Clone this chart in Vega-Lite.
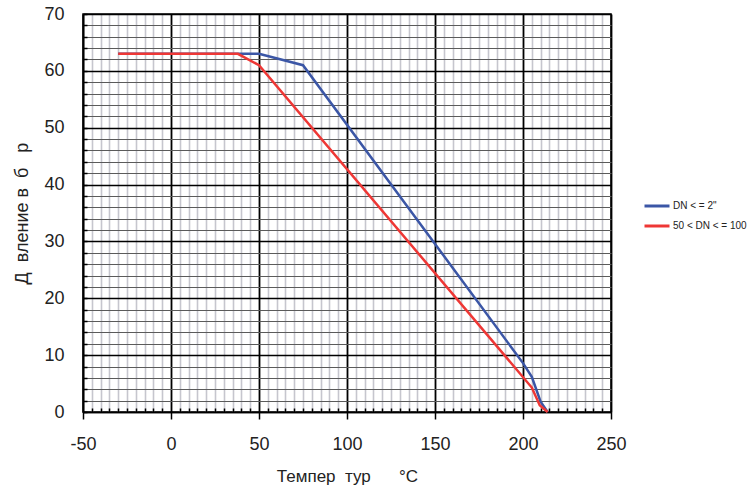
{
  "$schema": "https://vega.github.io/schema/vega-lite/v6.json",
  "autosize": {"type": "none"},
  "width": 528,
  "height": 398,
  "padding": {"left": 83, "top": 14, "right": 141, "bottom": 83},
  "background": "white",
  "config": {
    "view": {"stroke": "#000", "strokeWidth": 1.5},
    "font": "Liberation Sans"
  },
  "data": {
    "values": [
      {"series": "DN < = 2\"", "t": -30, "p": 63, "o": 1},
      {"series": "DN < = 2\"", "t": 50, "p": 63, "o": 2},
      {"series": "DN < = 2\"", "t": 75, "p": 61, "o": 3},
      {"series": "DN < = 2\"", "t": 200, "p": 8.6, "o": 4},
      {"series": "DN < = 2\"", "t": 205, "p": 6.2, "o": 5},
      {"series": "DN < = 2\"", "t": 210, "p": 1.8, "o": 6},
      {"series": "DN < = 2\"", "t": 214, "p": 0, "o": 7},
      {"series": "50 < DN < = 100", "t": -30, "p": 63, "o": 1},
      {"series": "50 < DN < = 100", "t": 38, "p": 63, "o": 2},
      {"series": "50 < DN < = 100", "t": 50, "p": 61, "o": 3},
      {"series": "50 < DN < = 100", "t": 205, "p": 4.3, "o": 4},
      {"series": "50 < DN < = 100", "t": 209.5, "p": 1.2, "o": 5},
      {"series": "50 < DN < = 100", "t": 214, "p": 0, "o": 6}
    ]
  },
  "mark": {"type": "line", "strokeWidth": 2.5},
  "encoding": {
    "x": {
      "field": "t", "type": "quantitative",
      "scale": {"domain": [-50, 250], "nice": false, "zero": false},
      "axis": {
        "title": "Темпер\u00a0\u00a0тур\u00a0\u00a0\u00a0\u00a0\u00a0\u00a0°C",
        "titleFont": "Liberation Sans", "titleFontSize": 17, "titleFontWeight": "normal", "titleColor": "#222",
        "titlePadding": 15,
        "values": [-50,-45,-40,-35,-30,-25,-20,-15,-10,-5,0,5,10,15,20,25,30,35,40,45,50,55,60,65,70,75,80,85,90,95,100,105,110,115,120,125,130,135,140,145,150,155,160,165,170,175,180,185,190,195,200,205,210,215,220,225,230,235,240,245,250],
        "labelExpr": "datum.value % 50 === 0 ? '' + datum.value : ''",
        "labelFont": "Liberation Sans", "labelFontSize": 18, "labelColor": "#222",
        "labelPadding": 16,
        "labelFlush": false,
        "labelOverlap": false,
        "domainColor": "#000", "domainWidth": 1.5,
        "tickColor": "#000", "tickWidth": 1.5,
        "tickSize": {"condition": {"test": "datum.value % 50 === 0", "value": 7}, "value": -4},
        "grid": true,
        "gridColor": {"condition": {"test": "datum.value % 50 === 0", "value": "#000"}, "value": "#c6c6ce"},
        "gridWidth": {"condition": {"test": "datum.value % 50 === 0", "value": 1.8}, "value": 1.6}
      }
    },
    "y": {
      "field": "p", "type": "quantitative",
      "scale": {"domain": [0, 70], "nice": false},
      "axis": {
        "title": "Д\u00a0\u00a0вление\u00a0в\u00a0\u00a0б\u00a0\u00a0\u00a0р",
        "titleFont": "Liberation Sans", "titleFontSize": 18, "titleFontWeight": "normal", "titleColor": "#222",
        "titlePadding": 12,
        "values": [0,2,4,6,8,10,12,14,16,18,20,22,24,26,28,30,32,34,36,38,40,42,44,46,48,50,52,54,56,58,60,62,64,66,68,70],
        "labelExpr": "datum.value % 10 === 0 ? datum.label : ''",
        "labelFont": "Liberation Sans", "labelFontSize": 18, "labelColor": "#222",
        "labelPadding": 23,
        "labelOverlap": false,
        "domainColor": "#000", "domainWidth": 1.5,
        "tickColor": "#000", "tickWidth": 1.5,
        "tickSize": -4,
        "grid": true,
        "gridColor": {"condition": {"test": "datum.value % 10 === 0", "value": "#000"}, "value": "#5a5a5a"},
        "gridWidth": {"condition": {"test": "datum.value % 10 === 0", "value": 1.6}, "value": 1.1}
      }
    },
    "color": {
      "field": "series", "type": "nominal",
      "scale": {"domain": ["DN < = 2\"", "50 < DN < = 100"], "range": ["#3b56a6", "#ee3735"]},
      "legend": {
        "title": null,
        "orient": "none",
        "legendX": 560,
        "legendY": 178,
        "symbolType": "stroke",
        "symbolSize": 625,
        "symbolStrokeWidth": 3,
        "labelFont": "Liberation Sans",
        "labelFontSize": 10,
        "labelColor": "#222",
        "labelOffset": 2,
        "rowPadding": -5,
        "symbolLimit": 0
      }
    },
    "order": {"field": "o", "type": "quantitative"}
  }
}
